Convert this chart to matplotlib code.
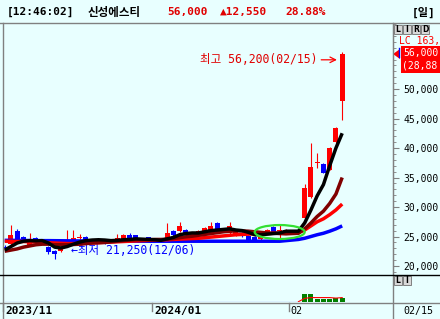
import matplotlib
matplotlib.use('Agg')
import matplotlib.pyplot as plt
from matplotlib.patches import Rectangle, Ellipse, Polygon
from matplotlib.lines import Line2D
from matplotlib.ticker import MultipleLocator

# 일봉 데이터 (2023/11/24 ~ 2024/02/15)
opens = [23200, 23700, 25900, 24900, 23600, 24700, 24400, 23200, 22500, 22550,
         23550, 24250, 24700, 24900, 24250, 24600, 24400, 24300, 24500, 24400,
         25250, 25200, 24700, 24900, 24600, 24500, 24400, 25900, 25900, 26100,
         25100, 25400, 25900, 25900, 27300, 25800, 25600, 25250, 25600, 25100,
         24900, 24500, 25600, 26600, 25900, 25600, 25700, 26100, 28150, 31700,
         37500, 37300, 36250, 41000, 47950]
highs = [23500, 27000, 26300, 25100, 25600, 24900, 24600, 23400, 22700, 23400,
         26100, 26100, 25400, 25100, 24600, 24800, 24400, 24500, 25500, 25400,
         25600, 25300, 24800, 25000, 24700, 24600, 27300, 26100, 27450, 26300,
         25800, 26100, 26600, 27450, 27500, 26300, 27450, 26100, 25800, 25200,
         25100, 25400, 26300, 26800, 27100, 26300, 26100, 26300, 33900, 40850,
         39150, 37400, 40100, 43500, 56200]
lows = [22800, 23500, 24000, 24000, 23400, 24200, 23700, 22100, 21250, 22300,
        23400, 24100, 23600, 24100, 24000, 24100, 23700, 24000, 24400, 24300,
        24300, 24300, 24200, 24300, 24200, 24200, 24300, 25100, 25700, 25200,
        25000, 25300, 25800, 25800, 26000, 25700, 25500, 25100, 25000, 24100,
        24300, 24400, 25400, 25600, 24700, 25400, 25500, 25500, 27900, 31600,
        36600, 35700, 36200, 40900, 44750]
closes = [23050, 25250, 24200, 24250, 24400, 24400, 23900, 22300, 22100, 23200,
          24200, 24750, 24750, 24250, 24400, 24300, 24200, 24200, 24800, 25250,
          24400, 24400, 24400, 24400, 24300, 24300, 25600, 25250, 26800, 25300,
          25600, 25900, 26400, 26800, 26100, 26100, 26800, 25900, 25100, 24250,
          24400, 25200, 26100, 25800, 26000, 26100, 25900, 25600, 33200, 36800,
          37650, 35750, 40000, 43450, 56000]

# 이동평균
ma5 = [22700, 23300, 23900, 24200, 24300, 24250, 24300, 23900, 23200, 23050,
       23300, 23700, 24050, 24300, 24400, 24450, 24400, 24300, 24350, 24450,
       24500, 24600, 24550, 24500, 24450, 24350, 24600, 24850, 25300, 25500,
       25600, 25600, 25800, 26000, 26100, 26200, 26300, 26100, 26000, 25700,
       25300, 25300, 25400, 25500, 25600, 25900, 25900, 25900, 27300, 29500,
       31900, 33800, 37000, 40000, 42500]
ma10 = [22500, 22700, 22900, 23200, 23400, 23600, 23700, 23700, 23600, 23600,
        23600, 23650, 23700, 23800, 23900, 23950, 24000, 24100, 24200, 24300,
        24400, 24450, 24450, 24450, 24500, 24500, 24550, 24650, 24800, 24950,
        25050, 25200, 25350, 25500, 25650, 25800, 25900, 25950, 25950, 25900,
        25800, 25700, 25600, 25550, 25500, 25450, 25500, 25550, 26300, 27300,
        28400, 29300, 30600, 32200, 35000]
ma20 = [24200, 24200, 24150, 24150, 24100, 24050, 24000, 23950, 23900, 23850,
        23800, 23800, 23800, 23850, 23900, 23950, 24000, 24050, 24100, 24150,
        24200, 24250, 24300, 24350, 24400, 24400, 24450, 24500, 24550, 24600,
        24650, 24700, 24800, 24900, 25000, 25100, 25200, 25300, 25350, 25400,
        25450, 25500, 25500, 25550, 25550, 25600, 25600, 25650, 26100, 26800,
        27500, 28000, 28700, 29500, 30500]
ma60 = [24350, 24350, 24340, 24330, 24320, 24310, 24300, 24300, 24290, 24280,
        24270, 24260, 24250, 24250, 24240, 24230, 24220, 24220, 24210, 24200,
        24200, 24200, 24200, 24200, 24200, 24200, 24200, 24200, 24200, 24200,
        24200, 24200, 24200, 24200, 24200, 24200, 24200, 24200, 24200, 24200,
        24200, 24200, 24200, 24200, 24200, 24300, 24400, 24500, 24700, 25000,
        25300, 25550, 25900, 26300, 26800]

# 거래량 (하단 패널)
volume = [1.5, 1.5, 1.5, 1.5, 1.5, 1, 1, 1, 1, 1,
          1, 1, 1, 1, 1, 1, 1, 1, 1, 1,
          1, 1, 1, 1, 1, 1, 1.5, 1, 1, 1,
          1, 1, 1, 1, 1, 1, 1, 1, 1, 1,
          1, 1, 1, 1, 1, 1, 1, 1.5, 32, 32,
          13, 12, 12, 14, 16]
vol_ma = [1.2] * 48 + [14, 17, 17, 17, 17, 15, 17]

date_labels = ['2023/11', '2024/01', '02']
last_date = '02/15'

BG = '#E8FFFF'
RED = '#FF0000'
TXT_RED = '#E00000'
BLUE = '#0000FF'
MAROON = '#800000'
GRAY = '#808080'
MONO = ['DejaVu Sans Mono', 'Noto Sans CJK KR']

W, H = 440, 319


def fx(x):
    return x / W


def fy(y):
    return 1 - y / H


def hline(fig, x0, x1, y, color, lw=1.0):
    fig.add_artist(Line2D([fx(x0), fx(x1)], [fy(y), fy(y)], color=color, lw=lw))


def vline(fig, x, y0, y1, color, lw=1.0):
    fig.add_artist(Line2D([fx(x), fx(x)], [fy(y0), fy(y1)], color=color, lw=lw))


fig = plt.figure(figsize=(4.4, 3.19), dpi=100)
fig.patch.set_facecolor(BG)

# 가격 차트
ax = fig.add_axes([fx(3), fy(275), (393 - 3) / W, (275 - 23) / H])
ax.set_facecolor(BG)
n = len(closes)
xs = list(range(n))

for i in xs:
    o, h, l, c = opens[i], highs[i], lows[i], closes[i]
    col = RED if c >= o else BLUE
    ax.vlines(i, l, h, color=col, lw=0.8, zorder=2)
    body = max(abs(c - o), 170)
    ax.bar(i, body, bottom=min(o, c), width=0.8, color=col, lw=0, zorder=2)

ax.plot(xs, ma60, color=BLUE, lw=2.5, zorder=3, solid_capstyle='butt')
ax.plot(xs, ma20, color=RED, lw=2.5, zorder=3, solid_capstyle='butt')
ax.plot(xs, ma10, color=MAROON, lw=2.5, zorder=3, solid_capstyle='butt')
ax.plot(xs, ma5, color='black', lw=2.5, zorder=3, solid_capstyle='butt')

ax.add_patch(Ellipse((44.0, 25760), 8.0, 2370, fill=False, ec='#33E033', lw=1.6, zorder=4))

ax.set_xlim(-0.272, 62.13)
ax.set_ylim(18475, 61190)

# 최고/최저 표시
ax.text(50.1, 54950, '최고 56,200(02/15)', color=TXT_RED, fontsize=8.3, family=MONO,
        ha='right', va='center', zorder=5)
ax.annotate('', xy=(53.6, 54950), xytext=(50.2, 54950),
            arrowprops=dict(arrowstyle='->', color=RED, lw=0.9), zorder=5)
ax.text(10.6, 22700, '←최저 21,250(12/06)', color=BLUE, fontsize=8.3, family=MONO,
        ha='left', va='center', zorder=1)

# 오른쪽 가격축
for side in ['top', 'left', 'bottom']:
    ax.spines[side].set_visible(False)
ax.spines['right'].set_color(GRAY)
ax.yaxis.tick_right()
ax.set_yticks([20000, 25000, 30000, 35000, 40000, 45000, 50000])
ax.set_yticklabels(['20,000', '25,000', '30,000', '35,000', '40,000', '45,000', '50,000'],
                   family='DejaVu Sans Mono', fontsize=7)
ax.yaxis.set_minor_locator(MultipleLocator(1000))
ax.tick_params(axis='y', which='major', length=4, color=GRAY, pad=3.5)
ax.tick_params(axis='y', which='minor', length=2.5, color=GRAY)
ax.set_xticks([])

# 거래량 패널
axv = fig.add_axes([fx(3), fy(302), (393 - 3) / W, (302 - 276) / H])
axv.set_facecolor(BG)
vcols = ['#008000' if i >= 48 else (RED if closes[i] >= opens[i] else BLUE) for i in xs]
axv.bar(xs, volume, width=0.8, color=vcols, lw=0)
axv.plot(xs[:48], vol_ma[:48], color=BLUE, lw=0.8)
axv.plot(xs[47:], vol_ma[47:], color=RED, lw=0.8)
axv.set_xlim(-0.272, 62.13)
axv.set_ylim(0, 100)
for s in axv.spines.values():
    s.set_visible(False)
axv.set_xticks([])
axv.set_yticks([])

# 테두리
hline(fig, 0, 440, 23, GRAY)
vline(fig, 3, 23, 319, GRAY)
vline(fig, 393, 23, 319, GRAY)
hline(fig, 0, 440, 275, 'black')
hline(fig, 0, 440, 303, GRAY)

# 상단 타이틀
ty = fy(12)
fig.text(fx(7), ty, '[12:46:02]', fontsize=8, family=MONO, weight='bold', va='center')
fig.text(fx(88), ty, '신성에스티', fontsize=8.3, family=['Noto Sans CJK KR'], weight='bold', va='center')
fig.text(fx(167), ty, '56,000', fontsize=8, family=MONO, weight='bold', color=TXT_RED, va='center')
fig.text(fx(220), ty, '▲12,550', fontsize=8, family=MONO, weight='bold', color=TXT_RED, va='center')
fig.text(fx(285), ty, '28.88%', fontsize=8, family=MONO, weight='bold', color=TXT_RED, va='center')
fig.text(fx(412), ty, '[일]', fontsize=8, family=MONO, weight='bold', va='center')

# 버튼
for k, ch in enumerate('LIRD'):
    fig.add_artist(Rectangle((fx(394 + 9 * k), fy(34)), 8 / W, 9 / H, fc='#D8D8D8', ec=GRAY, lw=0.7))
    fig.text(fx(398 + 9 * k), fy(29.5), ch, fontsize=5.5, weight='bold', ha='center', va='center',
             family='DejaVu Sans')
for k, ch in enumerate('LI'):
    fig.add_artist(Rectangle((fx(394 + 9 * k), fy(285)), 8 / W, 9 / H, fc='#D8D8D8', ec=GRAY, lw=0.7))
    fig.text(fx(398 + 9 * k), fy(280.5), ch, fontsize=5.5, weight='bold', ha='center', va='center',
             family='DejaVu Sans')

# 현재가 라벨
fig.text(fx(399), fy(41), 'LC 163,', fontsize=7, family='DejaVu Sans Mono', color=RED, va='center')
fig.add_artist(Rectangle((fx(401), fy(73)), 39 / W, 27 / H, fc=RED, ec='none'))
fig.text(fx(403), fy(53), '56,000', fontsize=7, family='DejaVu Sans Mono', color='white', va='center')
fig.text(fx(402), fy(66), '(28,88', fontsize=7, family='DejaVu Sans Mono', color='white', va='center')
fig.add_artist(Polygon([(fx(393), fy(54)), (fx(400), fy(49)), (fx(400), fy(59))], closed=True,
                       fc=RED, ec='none'))
vline(fig, 399, 48, 57, BLUE, lw=1.0)

# 날짜 축
for x in [3, 152, 289]:
    vline(fig, x, 303, 311, GRAY)
fig.text(fx(5), fy(311), date_labels[0], fontsize=8, family='DejaVu Sans Mono', weight='bold', va='center')
fig.text(fx(154), fy(311), date_labels[1], fontsize=8, family='DejaVu Sans Mono', weight='bold', va='center')
fig.text(fx(290), fy(311), date_labels[2], fontsize=7.2, family='DejaVu Sans Mono', va='center')
fig.text(fx(403), fy(311), last_date, fontsize=7.2, family='DejaVu Sans Mono', va='center')

fig.savefig('out.png', dpi=100, facecolor=BG)
